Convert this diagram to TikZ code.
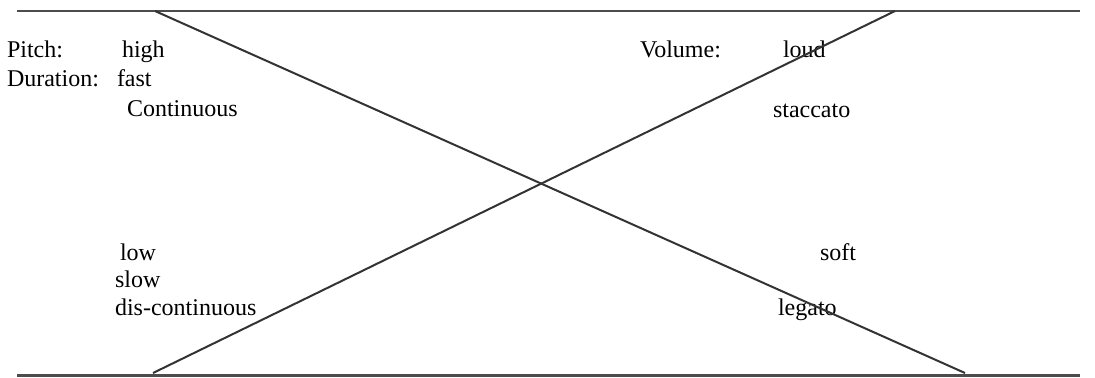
\documentclass[tikz,border=0pt]{standalone}
\usepackage{fontspec}
\setmainfont{Liberation Serif}
\begin{document}
\begin{tikzpicture}[x=0.5pt,y=-0.5pt,
	lbl/.style={anchor=base west,inner sep=0,outer sep=0,font=\fontsize{12}{14}\selectfont},
	rule/.style={draw=black!70,line width=1.2pt},
	cross/.style={draw=black!80,line width=1pt}]
	\useasboundingbox (0,0) rectangle (1095,377);
	\coordinate (tl) at (17,11);
	\coordinate (tr) at (1080,11);
	\coordinate (bl) at (17,375.5);
	\coordinate (br) at (1080,375.5);
	\coordinate (a) at (155,11);
	\coordinate (b) at (965,373);
	\coordinate (c) at (895,11);
	\coordinate (d) at (153,373);
	\node[lbl] (pitch) at (7,57) {Pitch:};
	\node[lbl] (high) at (122,57) {high};
	\node[lbl] (duration) at (7,86) {Duration:};
	\node[lbl] (fast) at (117,86) {fast};
	\node[lbl] (continuous) at (127,116) {Continuous};
	\node[lbl] (volume) at (640,57) {Volume:};
	\node[lbl] (loud) at (783,57) {loud};
	\node[lbl] (staccato) at (773,117) {staccato};
	\node[lbl] (low) at (120,260) {low};
	\node[lbl] (slow) at (115,287) {slow};
	\node[lbl] (discont) at (115,315) {dis-continuous};
	\node[lbl] (soft) at (820,260) {soft};
	\node[lbl] (legato) at (778,315) {legato};
	\draw[rule] (tl) -- (tr);
	\draw[rule] (bl) -- (br);
	\draw[cross] (a) -- (b);
	\draw[cross] (c) -- (d);
\end{tikzpicture}
\end{document}
